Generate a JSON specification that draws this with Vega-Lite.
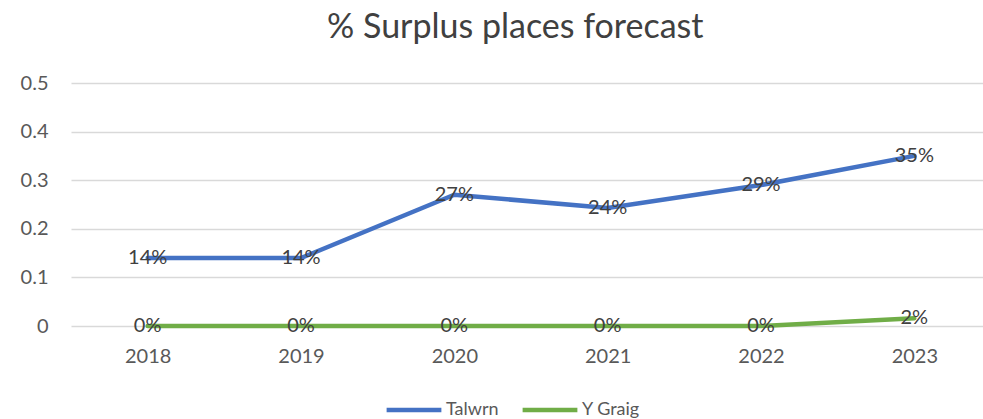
{
  "$schema": "https://vega.github.io/schema/vega-lite/v6.json",
  "width": 920,
  "height": 243,
  "autosize": "none",
  "padding": {"left": 71, "top": 83, "right": 0, "bottom": 93},
  "background": "white",
  "title": {"text": "% Surplus places forecast", "fontSize": 34, "font": "Lato", "fontWeight": "normal", "color": "#404040", "anchor": "start", "dx": 307, "offset": 28},
  "config": {
    "view": {"stroke": null},
    "font": "Lato"
  },
  "data": {
    "values": [
      {"year": "2018", "series": "Talwrn", "value": 0.14},
      {"year": "2019", "series": "Talwrn", "value": 0.14},
      {"year": "2020", "series": "Talwrn", "value": 0.27},
      {"year": "2021", "series": "Talwrn", "value": 0.243},
      {"year": "2022", "series": "Talwrn", "value": 0.29},
      {"year": "2023", "series": "Talwrn", "value": 0.35},
      {"year": "2018", "series": "Y Graig", "value": 0},
      {"year": "2019", "series": "Y Graig", "value": 0},
      {"year": "2020", "series": "Y Graig", "value": 0},
      {"year": "2021", "series": "Y Graig", "value": 0},
      {"year": "2022", "series": "Y Graig", "value": 0},
      {"year": "2023", "series": "Y Graig", "value": 0.016}
    ]
  },
  "encoding": {
    "x": {"field": "year", "type": "ordinal", "scale": {"type": "point", "padding": 0.5},
      "axis": {"title": null, "labelAngle": 0, "labelFontSize": 20, "labelColor": "#595959", "labelFont": "Lato", "domain": false, "ticks": false, "labelPadding": 20, "grid": false}},
    "y": {"field": "value", "type": "quantitative", "scale": {"domain": [0, 0.5], "nice": false},
      "axis": {"title": null, "values": [0, 0.1, 0.2, 0.3, 0.4, 0.5], "format": "~g", "labelFontSize": 20, "labelColor": "#595959", "labelFont": "Lato", "domain": false, "ticks": false, "labelPadding": 23, "gridColor": "#d9d9d9", "gridWidth": 1.3}}
  },
  "layer": [
    {
      "mark": {"type": "line", "strokeWidth": 4.5, "strokeCap": "round"},
      "encoding": {
        "color": {"field": "series", "type": "nominal", "scale": {"domain": ["Talwrn", "Y Graig"], "range": ["#4472C4", "#70AD47"]},
          "legend": {"title": null, "orient": "none", "legendX": 313, "legendY": 297, "direction": "horizontal", "symbolType": "stroke", "symbolSize": 3000, "symbolStrokeWidth": 4.5, "labelFontSize": 18, "labelColor": "#595959", "labelFont": "Lato", "columnPadding": 14, "labelOffset": 2, "padding": 0}}
      }
    },
    {
      "mark": {"type": "text", "fontSize": 20, "color": "#404040", "font": "Lato", "baseline": "middle", "align": "center"},
      "encoding": {
        "text": {"field": "value", "type": "quantitative", "format": ".0%"}
      }
    }
  ]
}
